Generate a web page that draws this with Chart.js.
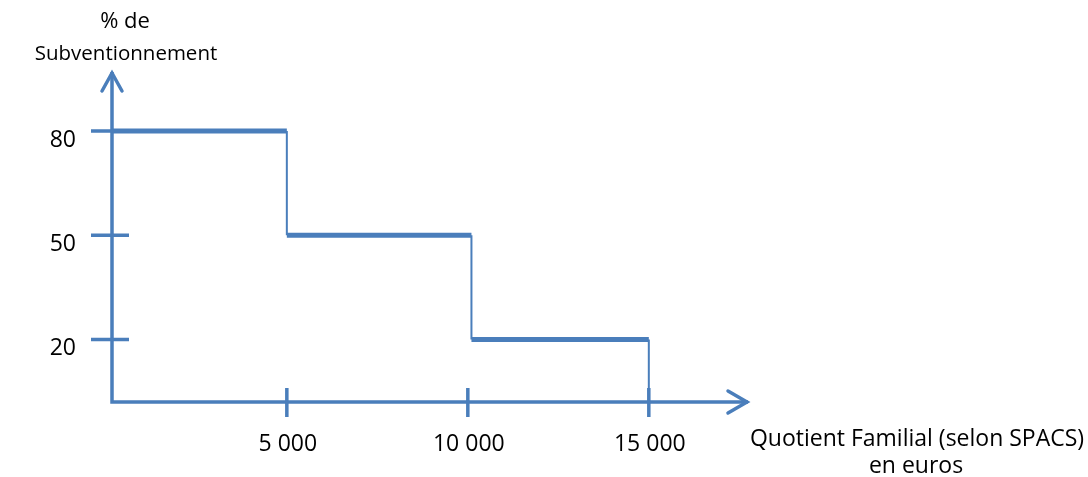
<!DOCTYPE html>
<html>
<head>
<meta charset="utf-8">
<script src="https://cdn.jsdelivr.net/npm/chart.js@4.4.0/dist/chart.umd.min.js"></script>
<style>
  html, body { margin: 0; padding: 0; background: #fff; }
  #wrap { width: 1088px; height: 477px; position: relative; }
</style>
</head>
<body>
<div id="wrap"><canvas id="myChart"></canvas></div>
<script>
// step data: quotient familial (euros) -> % de subventionnement
const stepX = [170, 5000, 5000, 10100, 10100, 15000, 15000];
const stepY = [80, 80, 50, 50, 20, 20, 2];
const yTicks = [80, 50, 20];
const xTicks = [5000, 10000, 15000];
const xTickLabels = ["5 000", "10 000", "15 000"];
const yTitle = ["% de", "Subventionnement"];
const xTitle = ["Quotient Familial (selon SPACS)", "en euros"];

const blue = '#4a7ebb';
const fam = '"Open Sans", sans-serif';

const axesPlugin = {
    id: 'axes',
    afterDatasetsDraw(chart) {
        const ctx = chart.ctx;
        const xs = chart.scales.x, ys = chart.scales.y;
        const x0 = xs.left, y0 = ys.bottom;
        const xEnd = xs.right, yEnd = ys.top;
        ctx.save();
        ctx.strokeStyle = blue;
        ctx.lineWidth = 3.5;
        ctx.lineCap = 'butt';
        // axes
        ctx.beginPath();
        ctx.moveTo(x0, yEnd);
        ctx.lineTo(x0, y0);
        ctx.lineTo(xEnd, y0);
        ctx.stroke();
        // arrow heads
        ctx.lineCap = 'round';
        ctx.beginPath();
        ctx.moveTo(x0 - 10, yEnd + 19);
        ctx.lineTo(x0, yEnd + 1);
        ctx.lineTo(x0 + 10, yEnd + 19);
        ctx.moveTo(xEnd - 20, y0 - 11);
        ctx.lineTo(xEnd - 1, y0);
        ctx.lineTo(xEnd - 20, y0 + 11);
        ctx.stroke();
        ctx.lineCap = 'butt';
        // tick marks
        ctx.beginPath();
        yTicks.forEach(v => {
            const py = ys.getPixelForValue(v);
            ctx.moveTo(x0 - 21, py);
            ctx.lineTo(x0 + 17, py);
        });
        xTicks.forEach(v => {
            const px = xs.getPixelForValue(v);
            ctx.moveTo(px, y0 - 14);
            ctx.lineTo(px, y0 + 15);
        });
        ctx.stroke();
        // labels
        ctx.fillStyle = '#000';
        ctx.textBaseline = 'middle';
        ctx.textAlign = 'right';
        ctx.font = '23px ' + fam;
        yTicks.forEach(v => {
            ctx.fillText(String(v), 76, ys.getPixelForValue(v) + 9);
        });
        ctx.textAlign = 'center';
        xTicks.forEach((v, i) => {
            ctx.fillText(xTickLabels[i], xs.getPixelForValue(v) + 1, 444);
        });
        ctx.font = '22px ' + fam;
        ctx.fillText(yTitle[0], 125, 22);
        ctx.font = '20.5px ' + fam;
        ctx.fillText(yTitle[1], 126, 54);
        ctx.font = '23px ' + fam;
        ctx.fillText(xTitle[0], 917, 439);
        ctx.fillText(xTitle[1], 916, 466);
        ctx.restore();
    }
};

const config = {
    type: 'line',
    data: {
        datasets: [{
            data: stepX.map((x, i) => ({ x: x, y: stepY[i] })),
            borderColor: blue,
            borderWidth: 5,
            pointRadius: 0,
            fill: false,
            tension: 0,
            segment: {
                borderWidth: c => c.p0.parsed.y === c.p1.parsed.y ? 5 : 2
            }
        }]
    },
    options: {
        responsive: true,
        maintainAspectRatio: false,
        animation: false,
        layout: { padding: { left: 112, top: 72, right: 340, bottom: 75 } },
        plugins: { legend: { display: false }, tooltip: { enabled: false } },
        scales: {
            x: { type: 'linear', min: 170, max: 17740, display: false },
            y: { type: 'linear', min: 2, max: 97, display: false }
        }
    },
    plugins: [axesPlugin]
};

const myChart = new Chart(document.getElementById('myChart'), config);
</script>
</body>
</html>
